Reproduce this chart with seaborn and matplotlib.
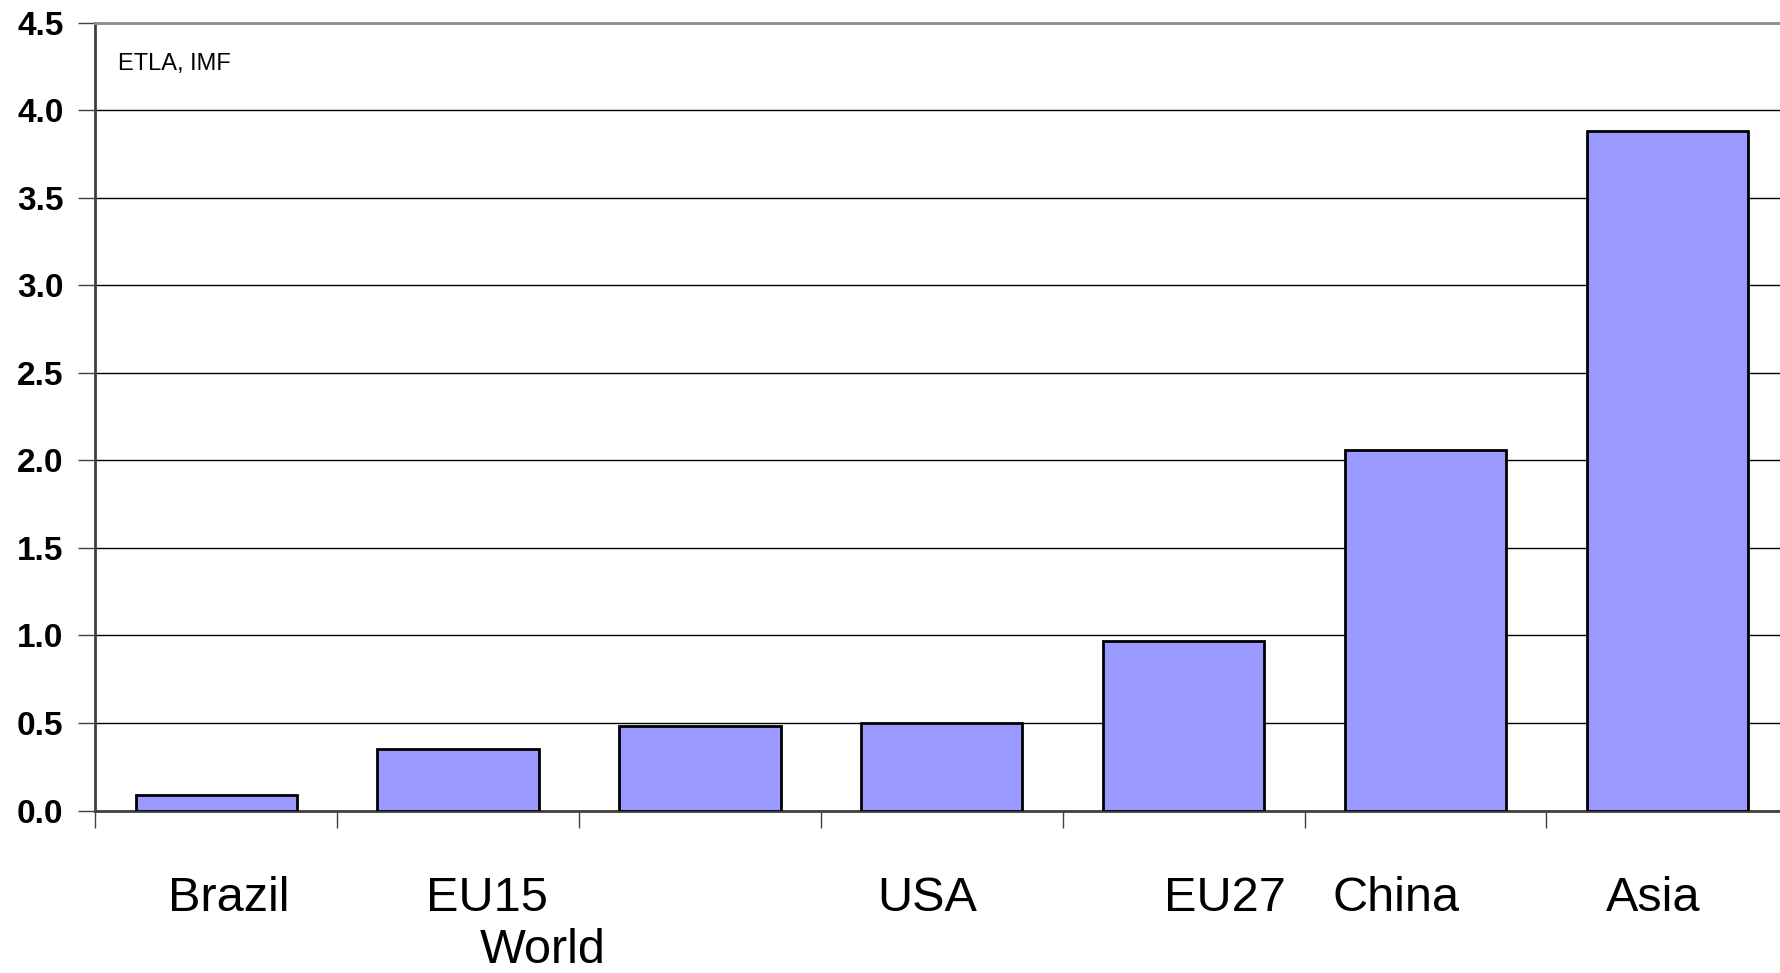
import matplotlib

matplotlib.use("Agg")

import matplotlib.pyplot as plt
import numpy as np
import pandas as pd
import seaborn as sns

regions = ["Brazil", "EU15", "World", "USA", "EU27", "China", "Asia"]
values = [0.09, 0.35, 0.48, 0.50, 0.97, 2.06, 3.88]
y_ticks = [0.0, 0.5, 1.0, 1.5, 2.0, 2.5, 3.0, 3.5, 4.0, 4.5]
source_note = "ETLA, IMF"

# label placement in the original slide is a bit irregular
label_shift = [0.05, 0.12, -0.65, -0.06, 0.17, -0.12, -0.06]
label_row = [0, 0, 1, 0, 0, 0, 0]

sns.set_theme(style="white")
plt.rcParams["font.family"] = ["Liberation Sans", "DejaVu Sans"]

df = pd.DataFrame({"region": regions, "value": values})

fig = plt.figure(figsize=(17.8, 9.73), dpi=100)
fig.patch.set_facecolor("white")
ax = fig.add_axes([0.0536, 0.167, 0.951, 0.8097])
ax.set_facecolor("white")

sns.barplot(
    data=df,
    x="region",
    y="value",
    color="#9999FF",
    saturation=1,
    width=0.667,
    edgecolor="black",
    linewidth=2,
    ax=ax,
    zorder=3,
)

ax.set_ylim(0, 4.5)
ax.set_xlim(-0.5, len(regions) - 0.5)
ax.set_yticks(y_ticks)
ax.set_yticklabels([f"{t:.1f}" for t in y_ticks], fontsize=24, fontweight="bold",
                   color="black")
ax.yaxis.grid(True, color="black", linewidth=1.0, zorder=0)
ax.set_axisbelow(True)

ax.set_xticks([])
ax.set_xticks(np.arange(-0.5, len(regions) + 0.5, 1.0), minor=True)
ax.tick_params(axis="x", which="minor", length=12, width=1, color="#404040", bottom=True)
ax.tick_params(axis="y", length=12, width=1, color="#404040", pad=11, left=True)
ax.set_xlabel("")
ax.set_ylabel("")

for side in ["left", "bottom"]:
    ax.spines[side].set_color("#404040")
    ax.spines[side].set_linewidth(2)
ax.spines["top"].set_color("#8c8c8c")
ax.spines["top"].set_linewidth(2)
ax.spines["right"].set_visible(False)

for i, name in enumerate(regions):
    ax.text(
        i + label_shift[i],
        -0.128 - 0.066 * label_row[i],
        name,
        transform=ax.get_xaxis_transform(),
        ha="center",
        va="baseline",
        fontsize=35,
        color="black",
        clip_on=False,
    )

ax.text(0.0135, 0.962, source_note, transform=ax.transAxes, fontsize=17,
        va="top", ha="left", color="black")

fig.savefig("out.png", dpi=100)
